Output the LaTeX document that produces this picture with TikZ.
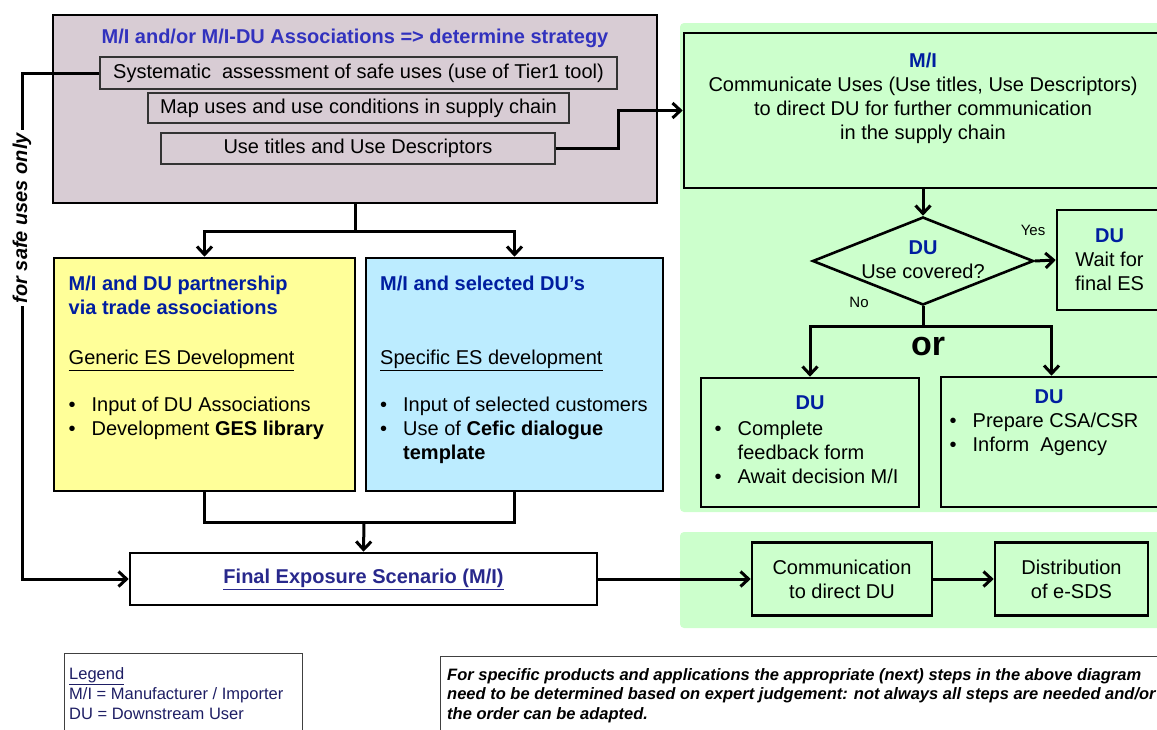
\documentclass[tikz,border=0pt]{standalone}
\usepackage{fontspec}
\setmainfont{Liberation Sans}
\usetikzlibrary{arrows.meta,shapes.geometric}
\definecolor{stratfill}{RGB}{216,204,212}
\definecolor{yelfill}{RGB}{255,255,153}
\definecolor{blufill}{RGB}{188,236,255}
\definecolor{panelgreen}{RGB}{204,255,204}
\definecolor{stratblue}{RGB}{50,50,190}
\definecolor{dublue}{RGB}{0,30,160}
\definecolor{finalblue}{RGB}{40,40,140}
\definecolor{legendblue}{RGB}{30,30,100}
\newcommand\fsz[2]{\fontsize{#1}{#2}\selectfont}
\newcommand\bul{\makebox[23pt][l]{\textbullet}}
\newcommand\bulskip{\hspace*{23pt}}
\tikzset{
  box/.style={draw=black, line width=2.6pt, inner sep=0pt},
  subbox/.style={draw=black!80, line width=1.2pt, inner sep=0pt},
  notebox/.style={draw=black!75, line width=1pt, inner sep=0pt},
  decision/.style={diamond, draw=black, line width=2.6pt, inner sep=0pt},
  panel/.style={fill=panelgreen, rounded corners=4pt},
  conn/.style={line width=3pt, -{Straight Barb[length=8pt,width=15pt]}},
  wire/.style={line width=3pt},
  txt/.style={inner sep=0pt}
}
\begin{document}
\begin{tikzpicture}[x=1pt,y=-1pt]
  \fsz{20}{24}
  \useasboundingbox (0,0) rectangle (1157,729);
  \clip (0,0) rectangle (1157,729);
  % green background panels
  \fill[panel] (680,23) rectangle (1162,512);
  \fill[panel] (680,532) rectangle (1162,628);
  % strategy block
  \node[box, fill=stratfill, minimum width=604pt, minimum height=188pt] (strat) at (355,109) {};
  \node[txt, text=stratblue, font=\bfseries] (strattitle) at (355,38) {M/I and/or M/I-DU Associations => determine strategy};
  \node[subbox, minimum width=517pt, minimum height=32pt] (sub1) at (358.5,73) {Systematic\ \ assessment of safe uses (use of Tier1 tool)};
  \node[subbox, minimum width=421pt, minimum height=30pt] (sub2) at (358.5,108) {Map uses and use conditions in supply chain};
  \node[subbox, minimum width=394pt, minimum height=31pt] (sub3) at (358,148.5) {Use titles and Use Descriptors};
  % partnership boxes
  \node[box, fill=yelfill, minimum width=301pt, minimum height=233pt] (yel) at (204.5,374.5) {};
  \node[txt, anchor=north west, align=left] (yeltext) at (68.5,275.6) {\textcolor{dublue}{\bfseries M/I and DU partnership}\\\textcolor{dublue}{\bfseries via trade associations}\\[26pt]\underline{Generic ES Development}\\[23pt]\bul Input of DU Associations\\\bul Development \textbf{GES library}};
  \node[box, fill=blufill, minimum width=297pt, minimum height=233pt] (blu) at (514.5,374.5) {};
  \node[txt, anchor=north west, align=left] (blutext) at (380,275.6) {\textcolor{dublue}{\bfseries M/I and selected DU’s}\\[50pt]\underline{Specific ES development}\\[23pt]\bul Input of selected customers\\\bul Use of \textbf{Cefic dialogue}\\\bulskip\textbf{template}};
  \node[box, minimum width=467pt, minimum height=52pt, text=finalblue, font=\bfseries] (fes) at (363.5,579) {\underline{Final Exposure Scenario (M/I)}};
  \draw[wire] (strat.south) -- ++(0,27) coordinate (split);
  \draw[conn] (split) -| (yel.north);
  \draw[conn] (split) -| (blu.north);
  \coordinate (merge) at (364,522);
  \draw[wire] (yel.south) |- (merge) -| (blu.south);
  \draw[conn] (merge) -- (fes.north);
  \coordinate (safeturn) at (22,579);
  \draw[conn] (sub1.west) -- (sub1.west -| safeturn) -- node[pos=0.287, rotate=90, fill=white, inner sep=3pt, font=\bfseries\itshape] (safe) {for safe uses only} (safeturn) -- (fes.west);
  % M/I communication and DU decision
  \node[box, minimum width=478pt, minimum height=155pt] (mi) at (923,110.5) {};
  \node[txt, anchor=north, align=center] (mitext) at (923,52.6) {\textcolor{dublue}{\bfseries M/I}\\Communicate Uses (Use titles, Use Descriptors)\\to direct DU for further communication\\in the supply chain};
  \draw[conn] (sub3.east) -- ++(63,0) |- (mi.west);
  \node[decision, minimum width=221pt, minimum height=88pt] (dec) at (923,261) {};
  \node[txt, anchor=north, align=center] (dectext) at (923,240.6) {\textcolor{dublue}{\bfseries DU}\\Use covered?};
  \node[txt, font=\fsz{15}{18}] (yes) at (1033,230) {Yes};
  \node[txt, font=\fsz{15}{18}] (no) at (859,302) {No};
  \node[box, minimum width=105pt, minimum height=100pt, align=center] (wait) at (1109.5,260) {\textcolor{dublue}{\bfseries DU}\\Wait for\\final ES};
  \node[box, minimum width=218pt, minimum height=129pt] (fb) at (810,442.5) {};
  \node[txt, text=dublue, font=\bfseries] (fbtitle) at (810,403) {DU};
  \node[txt, anchor=north west, align=left] (fblist) at (714.5,420.6) {\bul Complete\\\bulskip feedback form\\\bul Await decision M/I};
  \node[box, minimum width=221pt, minimum height=130pt] (csa) at (1051.5,442) {};
  \node[txt, text=dublue, font=\bfseries] (csatitle) at (1049,397) {DU};
  \node[txt, anchor=north west, align=left] (csalist) at (949.5,412.6) {\bul Prepare CSA/CSR\\\bul Inform\ \ Agency};
  \draw[conn] (mi.south) -- (dec.north);
  \draw[conn] (dec.east) -- (wait.west);
  \draw[wire] (dec.south) -- ++(0,20) coordinate (fork);
  \draw[conn] (fork) -| (fb.north);
  \draw[conn] (fork) -| (csa.north);
  \node[txt, font=\fsz{34}{40}\bfseries] (orlbl) at (928,347) {or};
  % distribution chain
  \node[box, minimum width=180pt, minimum height=73pt, align=center] (cdu) at (842,579) {Communication\\to direct DU};
  \node[box, minimum width=153pt, minimum height=73pt, align=center] (sds) at (1071.5,579) {Distribution\\of e-SDS};
  \draw[conn] (fes.east) -- (cdu.west);
  \draw[conn] (cdu.east) -- (sds.west);
  % legend and remark
  \node[notebox, minimum width=238pt, minimum height=92pt] (legend) at (183,699) {};
  \node[txt, anchor=north west, align=left, text=legendblue, font=\fsz{16.5}{20}] (legendtext) at (69,666.9) {\underline{Legend}\\M/I = Manufacturer / Importer\\DU = Downstream User};
  \node[notebox, minimum width=730pt, minimum height=89pt] (note) at (805,700.5) {};
  \node[txt, anchor=north west, align=left, font=\fsz{16.5}{19.5}\bfseries\itshape] (notetext) at (447,667.9) {For specific products and applications the appropriate (next) steps in the above diagram\\need to be determined based on expert judgement: not always all steps are needed and/or\\the order can be adapted.};
\end{tikzpicture}
\end{document}
